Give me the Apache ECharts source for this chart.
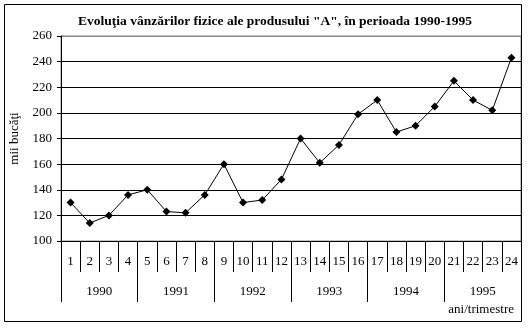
<!DOCTYPE html>
<html>
<head>
<meta charset="utf-8">
<script src="https://cdn.jsdelivr.net/npm/echarts@6/dist/echarts.min.js"></script>
<style>html,body{margin:0;padding:0;background:#fff}#c{width:528px;height:328px}</style>
</head>
<body>
<div id="c"></div>
<script>
const quarters = ['1','2','3','4','5','6','7','8','9','10','11','12','13','14','15','16','17','18','19','20','21','22','23','24'];
const years = ['1990','1991','1992','1993','1994','1995'];
const sales = [130, 114, 120, 136, 140, 123, 122, 136, 160, 130, 132, 148, 180, 161, 175, 199, 210, 185, 190, 205, 225, 210, 202, 243];
const yTicks = {min: 100, max: 260, interval: 20};
const titleText = 'Evoluţia vânzărilor fizice ale produsului "A", în perioada 1990-1995';
const yName = 'mii bucăţi';
const xName = 'ani/trimestre';

const FONT = "'Liberation Serif', 'Times New Roman', serif";
const chart = echarts.init(document.getElementById('c'), null, {renderer: 'canvas'});
chart.setOption({
  animation: false,
  backgroundColor: '#fff',
  title: {
    text: titleText, left: 270, top: 10, textAlign: 'center',
    textStyle: {fontFamily: FONT, fontSize: 13.5, fontWeight: 'bold', color: '#000'}
  },
  grid: {left: 57, right: 7, top: 36, bottom: 87, show: true, borderColor: '#888', borderWidth: 1},
  xAxis: [
    {
      type: 'category', data: quarters, boundaryGap: true, position: 'bottom',
      axisLine: {show: true, lineStyle: {color: '#000', width: 1}},
      axisTick: {show: true, interval: 0, length: 31, lineStyle: {color: '#000'}},
      axisLabel: {interval: 0, margin: 14, fontFamily: FONT, fontSize: 13, color: '#000'}
    },
    {
      type: 'category', data: years, boundaryGap: true, position: 'bottom', offset: 0,
      axisLine: {show: false},
      axisTick: {show: true, interval: 0, length: 61, lineStyle: {color: '#000'}},
      axisLabel: {interval: 0, margin: 44, fontFamily: FONT, fontSize: 13, color: '#000'}
    }
  ],
  yAxis: {
    type: 'value', min: yTicks.min, max: yTicks.max, interval: yTicks.interval,
    name: yName, nameLocation: 'middle', nameGap: 40, nameRotate: 90,
    nameTextStyle: {fontFamily: FONT, fontSize: 13, color: '#000'},
    axisLine: {show: true, lineStyle: {color: '#000'}},
    axisTick: {show: true, length: 4, lineStyle: {color: '#000'}},
    axisLabel: {margin: 9, fontFamily: FONT, fontSize: 13, color: '#000'},
    splitLine: {show: true, lineStyle: {color: ['#000','#000','#000','#000','#000','#000','#000','#000','#888'], width: 1}}
  },
  series: [{
    type: 'line', data: sales, xAxisIndex: 0,
    symbol: 'diamond', symbolSize: 8, showSymbol: true,
    lineStyle: {color: '#000', width: 1},
    itemStyle: {color: '#000'}
  }],
  graphic: [
    {type: 'rect', shape: {x: 4.5, y: 4.5, width: 517, height: 317}, style: {fill: 'none', stroke: '#000', lineWidth: 1}, z: 100},
    {type: 'text', right: 14, top: 303, style: {text: xName, font: '13px ' + FONT, fill: '#000'}}
  ]
});
</script>
</body>
</html>
